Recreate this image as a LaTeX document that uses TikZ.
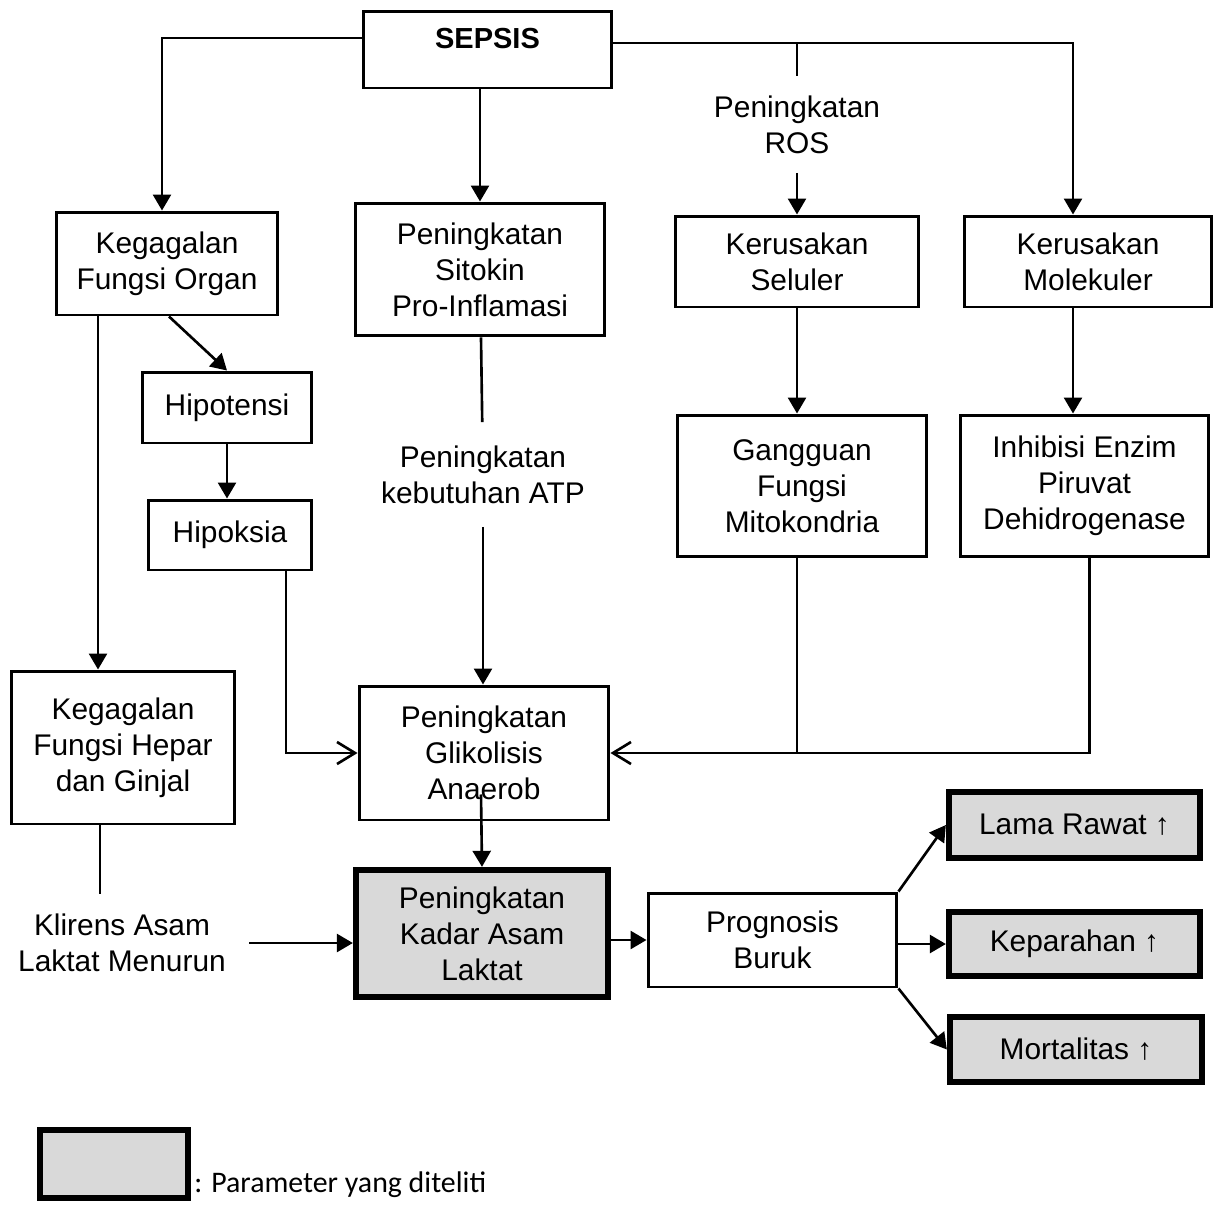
\documentclass[tikz,border=0pt]{standalone}
\usepackage{fontspec}
\setmainfont{Liberation Sans}
\newfontfamily\legendfont{Carlito}
\usetikzlibrary{arrows.meta}

\begin{document}
\begin{tikzpicture}[x=0.02cm,y=-0.02cm,line width=1.5pt]
  \tikzstyle{every node}=[align=center,font=\fontsize{17}{20.5}\selectfont,inner sep=0pt]
  \tikzstyle{box}=[draw,line width=1.7pt]
  \tikzstyle{param}=[draw,line width=3.6pt,fill=black!15]
  \tikzstyle{arr}=[-{Triangle[length=0.32cm,width=0.36cm]}]
  \tikzstyle{barb}=[-{Straight Barb[length=0.36cm,width=0.44cm]}]
  \useasboundingbox (0,0) rectangle (1221,1207);

  \node[box,font=\fontsize{16.5}{20.5}\selectfont\bfseries,minimum width=4.98cm,minimum height=1.54cm,text height=0.4cm,text depth=0.44cm] (sepsis) at (487.5,49.5) {SEPSIS};
  \node[box,minimum width=4.44cm,minimum height=2.06cm] (organ) at (167,263.5) {Kegagalan\\Fungsi Organ};
  \node[box,minimum width=5cm,minimum height=2.66cm] (sitokin) at (480,269.5) {Peningkatan\\Sitokin\\Pro-Inflamasi};
  \node[inner ysep=0.36cm] (ros) at (797,124.5) {Peningkatan\\ROS};
  \node[box,minimum width=4.88cm,minimum height=1.82cm] (seluler) at (797,261.5) {Kerusakan\\Seluler};
  \node[box,minimum width=4.96cm,minimum height=1.82cm] (molekuler) at (1088,261.5) {Kerusakan\\Molekuler};
  \node[box,minimum width=3.4cm,minimum height=1.42cm] (hipotensi) at (227,407.5) {Hipotensi};
  \node[box,minimum width=3.28cm,minimum height=1.4cm] (hipoksia) at (230,535) {Hipoksia};
  \node[inner ysep=0.44cm] (atp) at (483,474.5) {Peningkatan\\kebutuhan ATP};
  \node[box,minimum width=5cm,minimum height=2.84cm] (gangguan) at (802,486) {Gangguan\\Fungsi\\Mitokondria};
  \node[box,minimum width=4.98cm,minimum height=2.84cm] (inhibisi) at (1084.5,486) {Inhibisi Enzim\\Piruvat\\Dehidrogenase};
  \node[box,minimum width=4.48cm,minimum height=3.06cm] (hepar) at (123,747.5) {Kegagalan\\Fungsi Hepar\\dan Ginjal};
  \node[box,minimum width=5cm,minimum height=2.68cm] (glikolisis) at (484,753) {Peningkatan\\Glikolisis\\Anaerob};
  \node[inner xsep=0.44cm,inner ysep=0.37cm] (klirens) at (122,943) {Klirens Asam\\Laktat Menurun};
  \node[param,minimum width=5.04cm,minimum height=2.54cm] (kadar) at (482,933.5) {Peningkatan\\Kadar Asam\\Laktat};
  \node[box,minimum width=4.98cm,minimum height=1.88cm] (prognosis) at (772.5,940) {Prognosis\\Buruk};
  \node[param,minimum width=5.02cm,minimum height=1.32cm] (lama) at (1074.5,825) {Lama Rawat ↑};
  \node[param,minimum width=5.02cm,minimum height=1.28cm] (keparahan) at (1074.5,944) {Keparahan ↑};
  \node[param,minimum width=5.04cm,minimum height=1.3cm] (mortalitas) at (1076,1049.5) {Mortalitas ↑};
  \node[param,minimum width=2.96cm,minimum height=1.36cm] (legend) at (114,1164) {};
  \node[anchor=base west,font=\legendfont\fontsize{17}{20}\selectfont] (legendtext) at (193,1192) {: Parameter yang diteliti};

  \coordinate (lj) at (162,38);
  \coordinate (rj) at (797,43);
  \draw[arr] (sepsis.west |- lj) -| (lj |- organ.north);
  \draw[arr] (sepsis.south -| sitokin.north) -- (sitokin.north);
  \draw[arr] (sepsis.east |- rj) -| ([xshift=-0.3cm]molekuler.north);
  \draw (rj) -- (ros);
  \draw[arr] (ros) -- (seluler);
  \draw[arr] ([xshift=-1.38cm]organ.south) -- ([xshift=-1.38cm]organ.south |- hepar.north);
  \draw[arr] ([xshift=0.04cm]organ.south) -- (hipotensi.north);
  \draw[arr] (hipotensi) -- (hipotensi |- hipoksia.north);
  \draw[barb] ([xshift=1.12cm]hipoksia.south) |- (glikolisis.west);
  \draw (sitokin) -- (atp);
  \draw[arr] (atp) -- (atp |- glikolisis.north);
  \draw[arr] (seluler) -- (seluler |- gangguan.north);
  \draw[arr] ([xshift=-0.3cm]molekuler.south) -- ([xshift=-0.3cm]molekuler.south |- inhibisi.north);
  \draw ([xshift=-0.1cm]gangguan.south) -- ([xshift=-0.1cm]gangguan.south |- glikolisis.east);
  \draw[barb] ([xshift=0.1cm]inhibisi.south) |- (glikolisis.east);
  \draw ([xshift=-0.46cm]hepar.south) -- ([xshift=-0.46cm]hepar.south |- klirens.north);
  \draw[arr] (klirens.east) -- (klirens.east -| kadar.west);
  \draw[arr] ([xshift=-0.06cm,yshift=0.54cm]glikolisis.south) -- (kadar.north);
  \draw[arr] (kadar.east |- prognosis) -- (prognosis.west);
  \draw[arr] (prognosis.north east) -- (lama.west);
  \draw[arr] (prognosis.east |- keparahan) -- (keparahan.west);
  \draw[arr] (prognosis.south east) -- (mortalitas.west);
\end{tikzpicture}
\end{document}
